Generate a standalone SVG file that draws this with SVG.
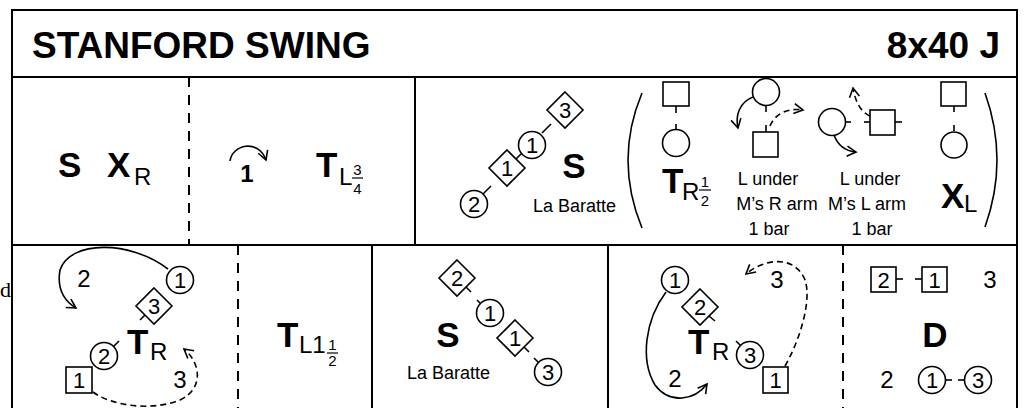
<svg xmlns="http://www.w3.org/2000/svg" width="1024" height="408" viewBox="0 0 1024 408">
<style>
text{font-family:"Liberation Sans",Arial,sans-serif;fill:#000}
.b{font-weight:bold}
.t{font-size:37px;font-weight:bold}
.big{font-size:35px;font-weight:bold}
.sub{font-size:24px}
.fr{font-size:15px;text-anchor:middle}
.n{font-size:22px;text-anchor:middle}
.m{font-size:24px;text-anchor:middle}
.s{font-size:18px}
.c{text-anchor:middle}
.frame{stroke:#000;stroke-width:2;fill:none}
.dash{stroke:#000;stroke-width:2;stroke-dasharray:10 8;fill:none}
.sh{stroke:#000;stroke-width:1.6;fill:#fff}
.tk{stroke:#000;stroke-width:1.6;fill:none}
.ar{stroke:#000;stroke-width:1.6;fill:none;marker-end:url(#ah)}
.ad{stroke:#000;stroke-width:1.6;fill:none;stroke-dasharray:6 4;marker-end:url(#ah)}
.fl{stroke:#000;stroke-width:1.2}
</style>
<defs>
<marker id="ah" viewBox="0 0 12 12" refX="10" refY="6" markerWidth="12" markerHeight="12" markerUnits="userSpaceOnUse" orient="auto">
<path d="M1,1 L10,6 L1,11" fill="none" stroke="#000" stroke-width="1.6"/>
</marker>
</defs>
<rect width="1024" height="408" fill="#fff"/>
<text x="0" y="297" style="font-family:'Liberation Serif',serif;font-size:22px">d</text>
<g id="frame">
<path class="frame" d="M12,420 V10 H1017 V420 M12,77 H1017 M12,245 H1017 M415,77 V245 M372,245 V420 M608,245 V420"/>
<path class="dash" d="M189,77 V245 M238,245 V420 M843,245 V420"/>
</g>
<g id="title">
<text class="t" x="32" y="58">STANFORD SWING</text>
<text class="t" x="1000" y="58" text-anchor="end">8x40 J</text>
</g>
<g id="cell-s-xr">
<text class="big" x="58" y="177">S</text>
<text class="big" x="107" y="177">X</text>
<text class="sub" x="134" y="185">R</text>
</g>
<g id="cell-1-turn">
<text class="b c" x="247" y="182" style="font-size:24px">1</text>
<text class="big" x="316" y="177">T</text>
<text class="sub" x="339" y="185">L</text>
<text class="fr" x="357.5" y="175">3</text>
<line class="fl" x1="352" y1="178" x2="363" y2="178"/>
<text class="fr" x="357.5" y="194">4</text>
</g>
<g id="cell-la-baratte-1">
<line class="tk" x1="483" y1="194" x2="491" y2="186"/>
<line class="tk" x1="515" y1="160" x2="522" y2="153"/>
<line class="tk" x1="542" y1="133" x2="551" y2="124"/>
<circle class="sh" cx="474" cy="204" r="13.5"/><text class="n" x="474" y="212">2</text>
<polygon class="sh" points="507,150 525,168 507,186 489,168"/><text class="n" x="507" y="176">1</text>
<circle class="sh" cx="532" cy="145" r="13.5"/><text class="n" x="532" y="153">1</text>
<polygon class="sh" points="565,92 583,110 565,128 547,110"/><text class="n" x="565" y="118">3</text>
<text class="big c" x="574" y="178">S</text>
<text class="s" x="533" y="212">La Baratte</text>
</g>
<g id="cell-turn-half">
<path class="tk" d="M642,93 Q614,160 642,228"/>
<rect class="sh" x="663" y="82" width="26" height="24"/>
<line class="tk" x1="676" y1="106" x2="676" y2="113"/>
<line class="tk" x1="676" y1="124" x2="676" y2="130"/>
<circle class="sh" cx="676" cy="143" r="13.5"/>
<text class="big" x="662" y="193">T</text>
<text class="sub" x="682" y="200">R</text>
<text class="fr" x="705" y="187">1</text>
<line class="fl" x1="699" y1="190" x2="711" y2="190"/>
<text class="fr" x="705" y="206">2</text>
</g>
<g id="cell-l-under-r">
<circle class="sh" cx="766" cy="92" r="13.5"/>
<line class="tk" x1="766" y1="105" x2="766" y2="112"/>
<line class="tk" x1="766" y1="125" x2="766" y2="132"/>
<rect class="sh" x="753" y="132" width="25" height="25"/>
<text class="s c" x="768" y="185">L under</text>
<text class="s c" x="777" y="210">M’s R arm</text>
<text class="s c" x="769" y="235">1 bar</text>
</g>
<g id="cell-l-under-l">
<line class="tk" x1="845" y1="122" x2="851" y2="122"/>
<line class="tk" x1="864" y1="122" x2="870" y2="122"/>
<line class="tk" x1="895" y1="122" x2="902" y2="122"/>
<circle class="sh" cx="832" cy="122" r="13.5"/>
<rect class="sh" x="870" y="110" width="25" height="25"/>
<text class="s c" x="870" y="185">L under</text>
<text class="s c" x="867" y="210">M’s L arm</text>
<text class="s c" x="872" y="235">1 bar</text>
</g>
<g id="cell-xl">
<rect class="sh" x="941" y="82" width="25" height="24"/>
<line class="tk" x1="954" y1="106" x2="954" y2="112"/>
<line class="tk" x1="954" y1="125" x2="954" y2="131"/>
<circle class="sh" cx="954" cy="145" r="13"/>
<text class="big" x="941" y="208">X</text>
<text class="sub" x="964" y="212">L</text>
<path class="tk" d="M985,93 Q1009,160 985,227"/>
</g>
<g id="cell-turn-r-1">
<line class="tk" x1="145" y1="315" x2="140" y2="320"/>
<line class="tk" x1="113" y1="347" x2="119" y2="341"/>
<circle class="sh" cx="180" cy="280" r="13.5"/><text class="n" x="180" y="288">1</text>
<polygon class="sh" points="154,288 172,306 154,324 136,306"/><text class="n" x="154" y="314">3</text>
<circle class="sh" cx="104" cy="356" r="13.5"/><text class="n" x="104" y="364">2</text>
<rect class="sh" x="66" y="367" width="26" height="26"/><text class="n" x="79" y="388">1</text>
<text class="big" x="127" y="354">T</text>
<text class="sub" x="150" y="360">R</text>
<text class="m" x="84" y="287">2</text>
<text class="m" x="180" y="388">3</text>
</g>
<g id="cell-turn-l">
<text class="big" x="277" y="347">T</text>
<text class="sub" x="299" y="353">L1</text>
<text class="fr" x="332.5" y="350">1</text>
<line class="fl" x1="327" y1="353" x2="338" y2="353"/>
<text class="fr" x="332.5" y="366">2</text>
</g>
<g id="cell-la-baratte-2">
<line class="tk" x1="466" y1="287" x2="471" y2="292"/>
<line class="tk" x1="481" y1="304" x2="477" y2="300"/>
<line class="tk" x1="524" y1="347" x2="529" y2="352"/>
<line class="tk" x1="539" y1="363" x2="534" y2="358"/>
<polygon class="sh" points="457,260 475,278 457,296 439,278"/><text class="n" x="457" y="286">2</text>
<circle class="sh" cx="490" cy="313" r="13.5"/><text class="n" x="490" y="321">1</text>
<polygon class="sh" points="515,320 533,338 515,356 497,338"/><text class="n" x="515" y="346">1</text>
<circle class="sh" cx="548" cy="372" r="13.5"/><text class="n" x="548" y="380">3</text>
<text class="big c" x="448" y="347">S</text>
<text class="s" x="407" y="379">La Baratte</text>
</g>
<g id="cell-turn-r-2">
<line class="tk" x1="709" y1="316" x2="715" y2="321"/>
<line class="tk" x1="741" y1="346" x2="736" y2="341"/>
<circle class="sh" cx="675" cy="280" r="13.5"/><text class="n" x="675" y="288">1</text>
<polygon class="sh" points="700,289 718,307 700,325 682,307"/><text class="n" x="700" y="315">2</text>
<circle class="sh" cx="750" cy="355" r="13.5"/><text class="n" x="750" y="363">3</text>
<rect class="sh" x="763" y="367" width="25" height="26"/><text class="n" x="775.5" y="388">1</text>
<text class="big" x="688" y="354">T</text>
<text class="sub" x="712" y="360">R</text>
<text class="m" x="777" y="288">3</text>
<text class="m" x="675" y="387">2</text>
</g>
<g id="cell-dance">
<line class="tk" x1="896" y1="279" x2="903" y2="279"/>
<line class="tk" x1="915" y1="279" x2="922" y2="279"/>
<rect class="sh" x="871" y="267" width="25" height="25"/><text class="n" x="883.5" y="287.5">2</text>
<rect class="sh" x="922" y="267" width="25" height="25"/><text class="n" x="934.5" y="287.5">1</text>
<text class="m" x="990" y="288">3</text>
<text class="big c" x="935" y="347">D</text>
<text class="m" x="887" y="388">2</text>
<line class="tk" x1="945" y1="380" x2="952" y2="380"/>
<line class="tk" x1="958" y1="380" x2="965" y2="380"/>
<circle class="sh" cx="932" cy="380" r="13.5"/><text class="n" x="932" y="388">1</text>
<circle class="sh" cx="978" cy="380" r="13.5"/><text class="n" x="978" y="388">3</text>
</g>
<g id="connectors">
<path class="ar" d="M230,161 C232,145 258,138 266,160"/>
<path class="ar" d="M753,97 C740,102 735,115 738,128"/>
<path class="ad" d="M770,126 C776,112 790,108 803,110"/>
<path class="ad" d="M870,116 C860,112 855,100 853,88"/>
<path class="ar" d="M834,135 C838,146 845,151 856,152"/>
<path class="ar" d="M168,269 C130,240 70,240 60,270 C57,287 63,300 76,308"/>
<path class="ad" d="M93,392 C110,405 150,412 180,400 C205,388 200,362 184,349"/>
<path class="ad" d="M785,366 C800,340 812,300 805,280 C795,255 765,258 746,274"/>
<path class="ar" d="M666,292 C645,320 640,360 655,385 C670,405 695,400 707,384"/>
</g>
</svg>
